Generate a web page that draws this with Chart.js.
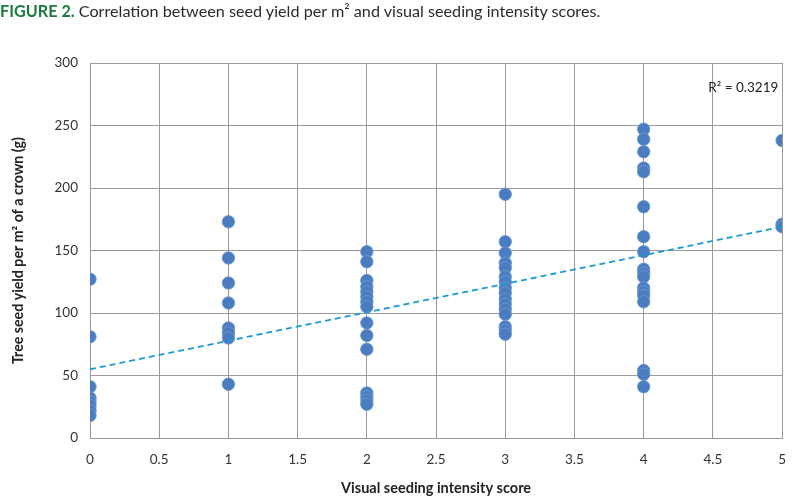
<!DOCTYPE html>
<html>
<head>
<meta charset="utf-8">
<script src="https://cdn.jsdelivr.net/npm/chart.js@4.4.1/dist/chart.umd.min.js"></script>
<style>
  html, body { margin:0; padding:0; background:#fff; }
  #wrap { position:relative; width:800px; height:497px; overflow:hidden; }
  #title { position:absolute; left:0; top:1px; font-family: Lato, "Open Sans", sans-serif; font-size:16.2px; color:#2a2a2a; white-space:nowrap; }
  #title b { color:#1b7a3e; }
  canvas { position:absolute; left:0; top:0; }
</style>
</head>
<body>
<div id="wrap">
  <canvas id="c" width="800" height="497"></canvas>
  <div id="title"><b>FIGURE 2.</b> Correlation between seed yield per m² and visual seeding intensity scores.</div>
</div>
<script>
// Visual seeding intensity scores and seed yields (g per m² of crown)
const score0 = [127, 81, 41, 32, 29, 26, 22, 18];
const score1 = [173, 144, 124, 108, 88, 84, 80, 43];
const score2 = [149, 141, 126, 121, 117, 113, 109, 105, 92, 82, 71, 36, 33, 30, 27];
const score3 = [195, 157, 148, 140, 136, 129, 125, 120, 116, 111, 107, 103, 99, 89, 86, 83];
const score4 = [247, 239, 229, 216, 213, 185, 161, 149, 135, 132, 129, 120, 117, 114, 109, 54, 51, 41];
const score5 = [238, 171, 169];
const scores = [0, 1, 2, 3, 4, 5];
const trendX = [0, 5];
const trendY = [55, 169];
const r2Label = "R² = 0.3219";
const r2Pos = [4.72, 280];
const xTicks = [0, 0.5, 1, 1.5, 2, 2.5, 3, 3.5, 4, 4.5, 5];
const yTicks = [0, 50, 100, 150, 200, 250, 300];

const groups = [score0, score1, score2, score3, score4, score5];
const points = [];
groups.forEach((g, i) => g.forEach(v => points.push({x: scores[i], y: v})));
const trend = trendX.map((x, i) => ({x: x, y: trendY[i]}));

const fontFam = 'Lato, "Open Sans", sans-serif';

const r2Plugin = {
  id: 'r2',
  afterDatasetsDraw(chart) {
    const {ctx, scales} = chart;
    const px = scales.x.getPixelForValue(r2Pos[0]);
    const py = scales.y.getPixelForValue(r2Pos[1]);
    ctx.save();
    ctx.fillStyle = '#222';
    ctx.font = '13.5px ' + fontFam;
    ctx.textAlign = 'center';
    ctx.textBaseline = 'middle';
    ctx.fillText(r2Label, px, py);
    ctx.restore();
  }
};

new Chart(document.getElementById('c'), {
  type: 'scatter',
  data: {
    datasets: [
      {
        type: 'line',
        data: trend,
        borderColor: '#1b9ad6',
        borderWidth: 1.8,
        borderDash: [6, 4],
        pointRadius: 0,
        fill: false,
        order: 0
      },
      {
        data: points,
        backgroundColor: '#4a7dbf',
        borderColor: 'rgba(110,150,210,0.9)',
        borderWidth: 1,
        pointRadius: 6.2,
        order: 1
      }
    ]
  },
  options: {
    responsive: false,
    animation: false,
    devicePixelRatio: 1,
    layout: { padding: { top: 63, right: 10, left: 0, bottom: 0 } },
    plugins: { legend: { display: false }, tooltip: { enabled: false }, title: { display: false } },
    scales: {
      x: {
        type: 'linear',
        min: 0, max: 5,
        afterBuildTicks(s) { s.ticks = xTicks.map(v => ({value: v})); },
        afterFit(s) { s.height = 59; },
        grid: { color: '#9a9a9a', lineWidth: 1, drawTicks: false },
        border: { color: '#9a9a9a', width: 1 },
        ticks: { padding: 14, color: '#333', font: { family: fontFam, size: 13.5 }, maxRotation: 0, autoSkip: false,
                 callback: v => String(v) },
        title: { display: true, text: 'Visual seeding intensity score', color: '#222', font: { family: fontFam, size: 14.5, weight: 'bold' }, padding: { top: 0, bottom: 0 } }
      },
      y: {
        type: 'linear',
        min: 0, max: 300,
        afterBuildTicks(s) { s.ticks = yTicks.map(v => ({value: v})); },
        afterFit(s) { s.width = 90; },
        grid: { color: '#9a9a9a', lineWidth: 1, drawTicks: false },
        border: { color: '#9a9a9a', width: 1 },
        ticks: { padding: 12, color: '#333', font: { family: fontFam, size: 13.5 }, autoSkip: false,
                 callback: v => String(v) },
        title: { display: true, text: 'Tree seed yield per m² of a crown (g)', color: '#222', font: { family: fontFam, size: 14.2, weight: 'bold' }, padding: { top: 10, bottom: 0 } }
      }
    }
  },
  plugins: [r2Plugin]
});
</script>
</body>
</html>
